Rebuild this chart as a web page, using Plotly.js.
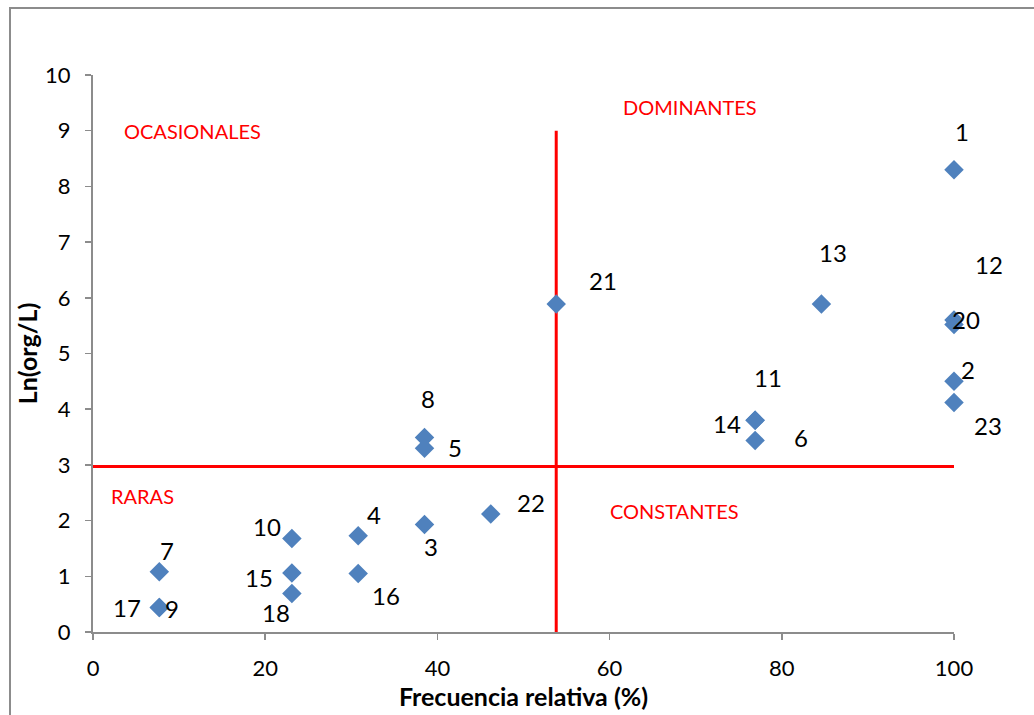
<!DOCTYPE html>
<html>
<head>
<meta charset="utf-8">
<script src="https://cdn.plot.ly/plotly-3.0.1.min.js"></script>
<style>
  html, body { margin: 0; padding: 0; background: #fff; overflow: hidden; }
  #frame { position: absolute; left: 9px; top: 7px; width: 1100px; height: 800px; border: 2px solid #8c8c8c; box-sizing: border-box; pointer-events: none; z-index: 5; }
  #chart { position: absolute; left: 0; top: 0; width: 1034px; height: 715px; }
</style>
</head>
<body>
<div id="chart"></div>
<div id="frame"></div>
<script>
// Species id labels
var ids = ['1','12','20','2','23','13','21','11','14','6','8','5','22','3','4','16','10','15','18','7','17','9'];
// Frecuencia relativa (%)
var freq = [100, 100, 100, 100, 100, 84.6, 53.8, 76.9, 76.9, 76.9, 38.5, 38.5, 46.2, 38.5, 30.8, 30.8, 23.1, 23.1, 23.1, 7.7, 7.7, 7.7];
// Ln(org/L)
var lnOrg = [8.30, 5.60, 5.52, 4.50, 4.12, 5.89, 5.89, 3.80, 3.80, 3.44, 3.49, 3.30, 2.12, 1.93, 1.73, 1.05, 1.68, 1.06, 0.69, 1.08, 0.44, 0.44];
// Label pixel offsets (styling only)
var labelDx = [8, 35, 12, 14, 34, 12, 47, 13, -28, 46, 4, 31, 40, 7, 16, 28, -25, -33, -16, 8, -32, 13];
var labelDy = [38, 56, 5, 12, -23, 51, 23, 43, -3, 3, 39, 1, 11, -22, 21, -22, 12, -5, -19, 21, 0, -1];

// Quadrant thresholds
var freqThreshold = 53.8;
var lnThreshold = 2.97;
var xTicks = [0, 20, 40, 60, 80, 100];
var yTicks = [0, 1, 2, 3, 4, 5, 6, 7, 8, 9, 10];

var quadrantNames = ['OCASIONALES', 'DOMINANTES', 'RARAS', 'CONSTANTES'];
var quadrantX = [3.4, 61.3, 1.9, 59.8];
var quadrantY = [9.0, 9.43, 2.45, 2.18];

var trace = {
  x: freq, y: lnOrg, type: 'scatter', mode: 'markers', cliponaxis: false,
  marker: { symbol: 'diamond', size: 15, color: '#4F81BD', line: { width: 0 } },
  hoverinfo: 'x+y', showlegend: false
};

var annotations = ids.map(function (t, i) {
  return { x: freq[i], y: lnOrg[i], xref: 'x', yref: 'y', text: t, showarrow: false,
    xshift: labelDx[i], yshift: labelDy[i], font: { family: 'Lato', size: 24, color: '#000' } };
});
quadrantNames.forEach(function (t, i) {
  annotations.push({ x: quadrantX[i], y: quadrantY[i], xref: 'x', yref: 'y', text: t, showarrow: false,
    xanchor: 'left', font: { family: 'Lato', size: 20, color: '#FF0000' } });
});
annotations.push({ x: 99.8, y: 10.15, xref: 'x', yref: 'y', text: 'E2 LIM', showarrow: false,
  xanchor: 'right', font: { family: 'Lato', size: 24, color: '#000' } });

var layout = {
  width: 1034, height: 715,
  margin: { l: 93, r: 80, t: 75, b: 83, pad: 0 },
  paper_bgcolor: '#fff', plot_bgcolor: '#fff',
  font: { family: 'Lato', color: '#000' },
  xaxis: {
    range: [0, 100], tickvals: xTicks, ticktext: xTicks.map(String),
    showgrid: false, zeroline: false, showline: true, linecolor: '#8c8c8c', linewidth: 2,
    ticks: 'outside', ticklen: 6, tickcolor: '#8c8c8c', tickwidth: 1.5,
    ticklabelstandoff: 10,
    tickfont: { family: 'Lato', size: 22, color: '#000' },
    title: { text: '<b>Frecuencia relativa (%)</b>', font: { family: 'Lato', size: 25, color: '#000' }, standoff: 8 }
  },
  yaxis: {
    range: [0, 10], tickvals: yTicks, ticktext: yTicks.map(String),
    showgrid: false, zeroline: false, showline: true, linecolor: '#8c8c8c', linewidth: 2,
    ticks: 'outside', ticklen: 6, tickcolor: '#8c8c8c', tickwidth: 1.5,
    ticklabelstandoff: 10,
    tickfont: { family: 'Lato', size: 22, color: '#000' },
    title: { text: '<b>Ln(org/L)</b>', font: { family: 'Lato', size: 25, color: '#000' }, standoff: 0 }
  },
  shapes: [
    { type: 'line', xref: 'x', yref: 'y', x0: 0, x1: 100, y0: lnThreshold, y1: lnThreshold, line: { color: '#FF0000', width: 3 }, layer: 'below' },
    { type: 'line', xref: 'x', yref: 'y', x0: freqThreshold, x1: freqThreshold, y0: 0, y1: 9, line: { color: '#FF0000', width: 3 }, layer: 'below' }
  ],
  annotations: annotations
};

Plotly.newPlot('chart', [trace], layout, { displayModeBar: false, staticPlot: true });
</script>
</body>
</html>
